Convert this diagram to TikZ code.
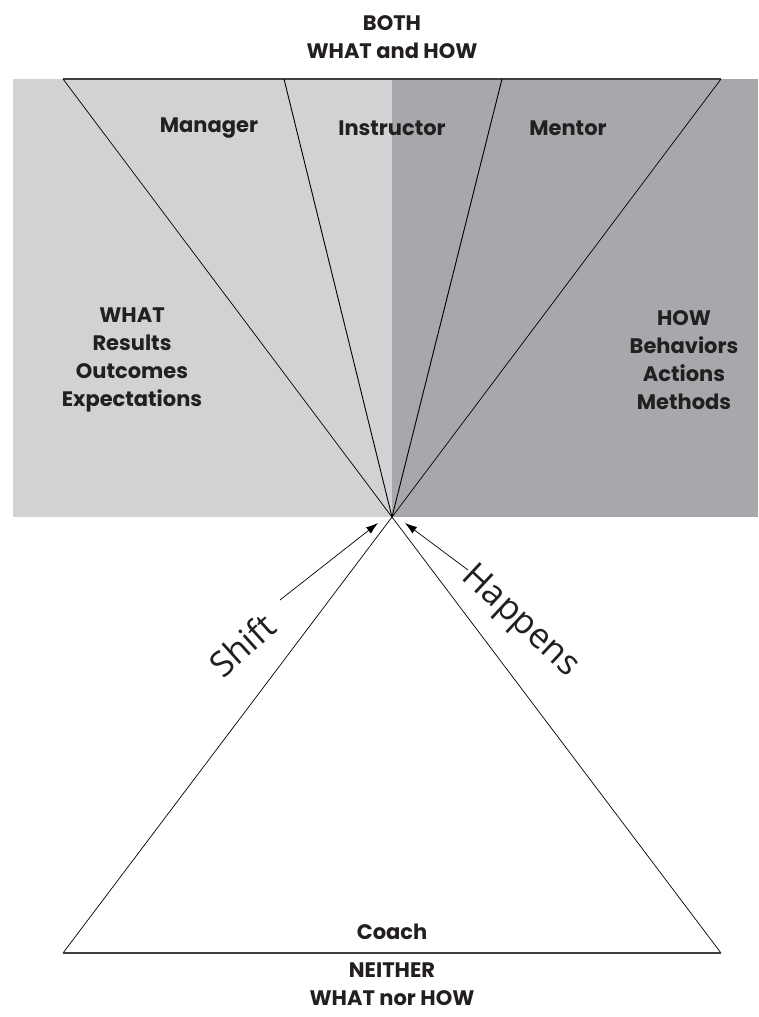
\documentclass[tikz,border=0pt]{standalone}
\usepackage{fontspec}
\setmainfont{Poppins}
\newfontfamily\handfont{Open Sans}
\usetikzlibrary{arrows.meta}
\definecolor{whatgray}{HTML}{D1D2D4}
\definecolor{howgray}{HTML}{A7A8AB}
\definecolor{ink}{HTML}{231F20}

\begin{document}
\begin{tikzpicture}[x=1pt, y=-1pt,
    every node/.style={font=\bfseries\fontsize{21}{28}\selectfont, align=center, inner sep=0pt, text=ink},
    hand/.style={font=\handfont\fontsize{35}{35}\selectfont},
    ray/.style={draw=black, line width=0.7pt},
    rim/.style={draw=black!75, line width=1.1pt},
    shove/.style={draw=black, line width=0.7pt, -{Latex[length=12pt,width=8pt]}},
]
  \useasboundingbox (0,0) rectangle (758,1017);

  % the two halves of the upper field
  \fill [whatgray] (13,79)  rectangle (392,517);
  \fill [howgray]  (392,79) rectangle (758,517);

  % corners of the two funnels
  \coordinate (apex) at (392,517);
  \coordinate (tl)   at (63,79);
  \coordinate (tml)  at (284,79);
  \coordinate (tmr)  at (502,79);
  \coordinate (tr)   at (721,79);
  \coordinate (bl)   at (63,953);
  \coordinate (br)   at (721,953);

  \draw [rim] (tl) -- (tr);
  \draw [ray] (tl)  -- (apex) -- (tr);
  \draw [ray, line width=0.9pt] (tml) -- (apex) -- (tmr);
  \draw [ray] (apex) -- (bl);
  \draw [ray] (apex) -- (br);
  \draw [rim] (bl) -- (br);

  % roles
  \node (both)     at (392,37)  {BOTH\\WHAT and HOW};
  \node (manager)  at (209,128) {Manager};
  \node (instr)    at (392,128) {Instructor};
  \node (mentor)   at (568,128) {Mentor};
  \node (what)     at (132,360) {WHAT\\Results\\Outcomes\\Expectations};
  \node (how)      at (684,360) {HOW\\Behaviors\\Actions\\Methods};
  \node (coach)    at (392,932) {Coach};
  \node (neither)  at (392,984) {NEITHER\\WHAT nor HOW};

  % the shift towards the centre
  \node [hand, rotate=42]  (shift)   at (242,645) {Shift};
  \node [hand, rotate=-43] (happens) at (520,622) {Happens};
  \coordinate (shiftend)   at (280,600);
  \coordinate (shifttip)   at (378,523);
  \coordinate (happensend) at (468,570);
  \coordinate (happenstip) at (405,523);
  \draw [shove] (shiftend)   -- (shifttip);
  \draw [shove] (happensend) -- (happenstip);
\end{tikzpicture}
\end{document}
